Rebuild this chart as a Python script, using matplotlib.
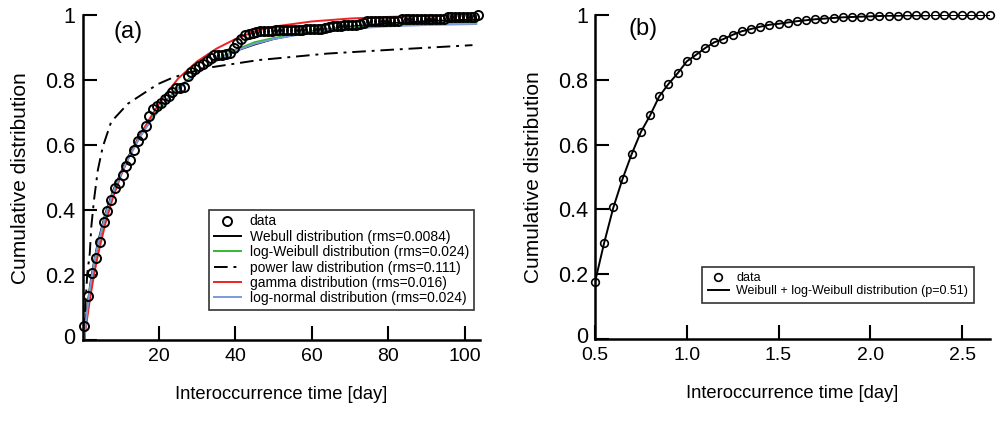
import matplotlib.pyplot as plt
from matplotlib.transforms import ScaledTranslation

plt.rcParams['font.family'] = ['Liberation Sans', 'DejaVu Sans']

# ---- panel (a): interoccurrence time CDF, binned per day ----
a_x = [i + 0.5 for i in range(104)]
a_y = [0.042, 0.135, 0.205, 0.254, 0.303, 0.362, 0.398, 0.432, 0.467, 0.483,
       0.508, 0.537, 0.555, 0.585, 0.612, 0.630, 0.660, 0.690, 0.710, 0.722,
       0.730, 0.742, 0.752, 0.765, 0.776, 0.776, 0.780, 0.812, 0.826, 0.834,
       0.845, 0.850, 0.860, 0.867, 0.877, 0.878, 0.877, 0.882, 0.884, 0.898,
       0.914, 0.928, 0.938, 0.943, 0.946, 0.949, 0.951, 0.952, 0.953, 0.953,
       0.954, 0.954, 0.954, 0.955, 0.955, 0.955, 0.955, 0.956, 0.957, 0.957,
       0.958, 0.958, 0.959, 0.960, 0.963, 0.967, 0.968, 0.968, 0.969, 0.969,
       0.970, 0.971, 0.973, 0.976, 0.981, 0.982, 0.982, 0.982, 0.982, 0.983,
       0.983, 0.983, 0.983, 0.989, 0.989, 0.989, 0.989, 0.990, 0.990, 0.990,
       0.990, 0.990, 0.990, 0.990, 0.990, 0.996, 0.996, 0.996, 0.996, 0.996,
       0.996, 0.996, 0.996, 1.000]

fit_x = [0.5, 1, 2, 3, 4, 6, 8, 10, 12, 15, 18, 21, 25, 30, 35, 40, 45, 50,
         60, 70, 80, 90, 103]
weibull = [0.03, 0.08, 0.17, 0.24, 0.30, 0.39, 0.46, 0.515, 0.565, 0.63, 0.68,
           0.725, 0.775, 0.825, 0.86, 0.89, 0.91, 0.927, 0.95, 0.965, 0.975,
           0.982, 0.987]
logweibull = [0.0, 0.06, 0.15, 0.225, 0.285, 0.38, 0.455, 0.51, 0.56, 0.625,
              0.68, 0.725, 0.775, 0.825, 0.863, 0.893, 0.917, 0.93, 0.95,
              0.962, 0.97, 0.975, 0.978]
gamma = [0.01, 0.05, 0.13, 0.2, 0.26, 0.36, 0.44, 0.505, 0.56, 0.63, 0.69,
         0.745, 0.805, 0.858, 0.897, 0.927, 0.95, 0.965, 0.981, 0.99, 0.995,
         0.998, 0.999]
lognormal = [0.005, 0.07, 0.165, 0.235, 0.295, 0.385, 0.455, 0.51, 0.56,
             0.625, 0.678, 0.722, 0.772, 0.822, 0.86, 0.89, 0.912, 0.927,
             0.947, 0.959, 0.966, 0.97, 0.973]
pow_x = [0.5, 0.55, 0.7, 1.25, 1.9, 2.3, 3.0, 4.0, 5.3, 7.5, 11.9, 19.7, 23.6,
         31.5, 46, 64, 81, 102]
powerlaw = [0.0, 0.04, 0.10, 0.205, 0.267, 0.349, 0.431, 0.523, 0.595, 0.672,
            0.728, 0.788, 0.808, 0.836, 0.862, 0.882, 0.894, 0.908]

# ---- panel (b) ----
b_x = [round(0.5 + 0.05 * i, 2) for i in range(44)]
b_y = [0.176, 0.297, 0.406, 0.494, 0.571, 0.639, 0.690, 0.749, 0.787, 0.820,
       0.857, 0.877, 0.898, 0.916, 0.926, 0.939, 0.950, 0.957, 0.964, 0.970,
       0.973, 0.977, 0.981, 0.984, 0.987, 0.989, 0.991, 0.993, 0.994, 0.995,
       0.996, 0.997, 0.998, 0.998, 0.999, 0.999, 0.999, 1.0, 1.0, 1.0, 1.0,
       1.0, 1.0, 1.0]
b_fit = b_y

yticks = [0, 0.2, 0.4, 0.6, 0.8, 1.0]
ytick_labels = ['0', '0.2', '0.4', '0.6', '0.8', '1']

fig = plt.figure(figsize=(9.99, 4.24), dpi=100)
ax1 = fig.add_axes([0.0826, 0.198, 0.398, 0.766])
ax2 = fig.add_axes([0.5956, 0.2005, 0.395, 0.764])


def style(ax):
    for s in ['top', 'right']:
        ax.spines[s].set_visible(False)
    for s in ['left', 'bottom']:
        ax.spines[s].set_linewidth(1.8)
    ax.tick_params(direction='in', length=10, width=1.5)
    ax.tick_params(axis='x', labelsize=14, pad=6)
    ax.tick_params(axis='y', labelsize=15.5, pad=5)
    ax.set_ylim(0, 1)
    ax.set_yticks(yticks)
    ax.set_yticklabels(ytick_labels)
    # the "0" at the origin sits a little above the axis line
    lab0 = ax.yaxis.get_major_ticks()[0].label1
    lab0.set_transform(lab0.get_transform() +
                       ScaledTranslation(0, 3 / 72, fig.dpi_scale_trans))
    ax.set_xlabel('Interoccurrence time [day]', fontsize=13.2, labelpad=15)
    ax.set_ylabel('Cumulative distribution', fontsize=15, labelpad=11)


def legend(ax, handles, labels, anchor, size, hl, bp):
    leg = ax.legend(handles, labels, loc='lower right', bbox_to_anchor=anchor,
                    fontsize=size, frameon=True, fancybox=False,
                    edgecolor='black', handlelength=hl, borderpad=bp,
                    labelspacing=0.1, handletextpad=0.6, borderaxespad=0)
    leg.get_frame().set_linewidth(1.2)


ax1.plot(a_x, a_y, 'o', ms=6.5, mfc='none', mec='black', mew=1.4,
         label='data', zorder=5, clip_on=False)
ax1.plot(fit_x, weibull, color='black', lw=1.4,
         label='Webull distribution (rms=0.0084)')
ax1.plot(fit_x, logweibull, color='#33b833', lw=1.4,
         label='log-Weibull distribution (rms=0.024)')
ax1.plot(pow_x, powerlaw, color='black', lw=1.4, dashes=(7, 3, 1.5, 3),
         label='power law distribution (rms=0.111)')
ax1.plot(fit_x, gamma, color='#ee2222', lw=1.4,
         label='gamma distribution (rms=0.016)')
ax1.plot(fit_x, lognormal, color='#7b9ad8', lw=1.4,
         label='log-normal distribution (rms=0.024)')
ax1.set_xlim(0, 104)
ax1.set_xticks([20, 40, 60, 80, 100])
style(ax1)
ax1.text(0.077, 0.949, '(a)', transform=ax1.transAxes, fontsize=17,
         va='center', ha='left')
h, l = ax1.get_legend_handles_labels()
legend(ax1, h, l, (0.984, 0.092), 10, 2.0, 0.35)

ax2.plot(b_x, b_fit, color='black', lw=1.4,
         label='Weibull + log-Weibull distribution (p=0.51)', zorder=3)
ax2.plot(b_x, b_y, 'o', ms=5.5, mfc='none', mec='black', mew=1.2,
         label='data', zorder=5, clip_on=False)
ax2.set_xlim(0.5, 2.65)
ax2.set_xticks([0.5, 1.0, 1.5, 2.0, 2.5])
ax2.set_xticklabels(['0.5', '1.0', '1.5', '2.0', '2.5'])
style(ax2)
ax2.text(0.084, 0.958, '(b)', transform=ax2.transAxes, fontsize=17,
         va='center', ha='left')
h, l = ax2.get_legend_handles_labels()
legend(ax2, h[::-1], l[::-1], (0.96, 0.111), 9, 1.7, 0.45)

fig.savefig('out.png', dpi=100)
